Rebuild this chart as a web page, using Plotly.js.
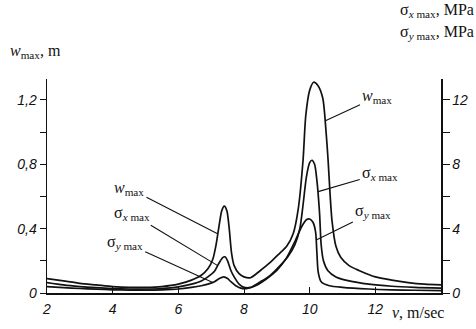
<!DOCTYPE html>
<html>
<head>
<meta charset="utf-8">
<script src="https://cdn.plot.ly/plotly-3.0.1.min.js"></script>
<style>html,body{margin:0;padding:0;background:#fff;}#chart{width:476px;height:329px;}</style>
</head>
<body>
<div id="chart"></div>
<script>
// speed v, m/sec and deflection w_max, m
const xW = [2, 2.5, 3, 3.5, 4, 4.5, 5, 5.5, 6, 6.4, 6.7, 6.9, 7.05, 7.15, 7.25, 7.32, 7.4, 7.48, 7.55, 7.62, 7.7, 7.85, 8.0, 8.2, 8.5, 8.8, 9.1, 9.3, 9.5, 9.65, 9.8, 9.88, 10.0, 10.12, 10.25, 10.4, 10.5, 10.56, 10.62, 10.68, 10.8, 10.95, 11.2, 11.5, 12, 12.5, 13, 13.5, 14];
const wMax = [0.09, 0.075, 0.06, 0.05, 0.04, 0.035, 0.035, 0.04, 0.055, 0.08, 0.11, 0.15, 0.21, 0.30, 0.43, 0.51, 0.54, 0.51, 0.40, 0.25, 0.17, 0.12, 0.10, 0.095, 0.14, 0.19, 0.25, 0.29, 0.37, 0.52, 0.83, 1.10, 1.26, 1.31, 1.29, 1.21, 1.00, 0.83, 0.62, 0.45, 0.29, 0.22, 0.17, 0.14, 0.10, 0.08, 0.065, 0.055, 0.05];

// stress sigma_x max, MPa
const xSx = [2, 2.5, 3, 3.5, 4, 4.5, 5, 5.5, 6, 6.4, 6.7, 6.9, 7.1, 7.25, 7.35, 7.42, 7.5, 7.6, 7.7, 7.85, 8.0, 8.2, 8.5, 8.8, 9.1, 9.35, 9.55, 9.7, 9.8, 9.9, 10.0, 10.07, 10.15, 10.22, 10.3, 10.35, 10.42, 10.55, 10.8, 11.2, 11.8, 12.5, 13.2, 14];
const sigmaX = [0.65, 0.5, 0.4, 0.33, 0.28, 0.25, 0.25, 0.28, 0.38, 0.55, 0.75, 1.0, 1.35, 1.9, 2.2, 2.25, 2.0, 1.4, 1.0, 0.55, 0.35, 0.35, 0.7, 1.1, 1.7, 2.3, 3.0, 4.0, 5.5, 7.2, 8.1, 8.25, 8.0, 7.0, 5.0, 3.0, 2.0, 1.4, 1.0, 0.75, 0.55, 0.42, 0.35, 0.3];

// stress sigma_y max, MPa
const xSy = [2, 2.5, 3, 3.5, 4, 4.5, 5, 5.5, 6, 6.4, 6.7, 6.9, 7.1, 7.25, 7.38, 7.5, 7.6, 7.75, 7.9, 8.1, 8.4, 8.7, 9.0, 9.3, 9.55, 9.75, 9.9, 10.0, 10.1, 10.18, 10.22, 10.26, 10.35, 10.6, 11, 11.8, 12.5, 13.2, 14];
const sigmaY = [0.4, 0.33, 0.28, 0.24, 0.2, 0.18, 0.18, 0.2, 0.25, 0.35, 0.45, 0.55, 0.7, 0.9, 1.0, 0.9, 0.7, 0.45, 0.3, 0.28, 0.5, 0.9, 1.4, 2.2, 3.2, 4.1, 4.55, 4.6, 4.4, 3.8, 2.5, 1.3, 0.7, 0.45, 0.35, 0.25, 0.2, 0.17, 0.15];

// tick labels
const xTicks = [2, 4, 6, 8, 10, 12];
const xTickText = ['2', '4', '6', '8', '10', '12'];
const yTicks = [0, 0.4, 0.8, 1.2];
const yTickText = ['0', '0,4', '0,8', '1,2'];
const y2Ticks = [0, 4, 8, 12];
const y2TickText = ['0', '4', '8', '12'];

const ink = '#111';
const lineStyle = {color: ink, width: 1.7, shape: 'spline', smoothing: 0.7};

const traces = [
  {x: xW, y: wMax, type: 'scatter', mode: 'lines', line: lineStyle, yaxis: 'y', hoverinfo: 'skip'},
  {x: xSx, y: sigmaX, type: 'scatter', mode: 'lines', line: lineStyle, yaxis: 'y2', hoverinfo: 'skip'},
  {x: xSy, y: sigmaY, type: 'scatter', mode: 'lines', line: lineStyle, yaxis: 'y2', hoverinfo: 'skip'}
];

const tickFont = {family: 'Liberation Sans', size: 14, color: ink, style: 'italic'};
const labFont = {family: 'Liberation Serif', size: 16, color: ink};

function lead(text, x, y, yref, ax, ay) {
  return {text: text, x: x, y: y, xref: 'x', yref: yref, ax: ax, ay: ay,
    showarrow: true, arrowhead: 0, arrowwidth: 1.1, arrowcolor: ink, font: labFont, standoff: 0, startstandoff: 1};
}

const layout = {
  width: 476, height: 329,
  margin: {l: 47, r: 35, t: 79, b: 36},
  paper_bgcolor: '#fff', plot_bgcolor: '#fff',
  showlegend: false,
  xaxis: {range: [2, 14], tickvals: xTicks, ticktext: xTickText, ticks: 'inside', ticklen: 6,
    tickcolor: ink, showline: true, linecolor: ink, linewidth: 1.5, showgrid: false, zeroline: false,
    tickfont: tickFont, ticklabelstandoff: 3},
  yaxis: {range: [0, 1.33], tickvals: yTicks, ticktext: yTickText, ticks: 'outside', ticklen: 6,
    tickcolor: ink, showline: true, linecolor: ink, linewidth: 1.5, showgrid: false, zeroline: false,
    tickfont: tickFont, minor: {tickvals: [0.2, 0.6, 1.0], ticks: 'outside', ticklen: 6, tickcolor: ink}},
  yaxis2: {range: [0, 13.3], overlaying: 'y', side: 'right', tickvals: y2Ticks, ticktext: y2TickText,
    ticks: 'outside', ticklen: 7, tickcolor: ink, showline: true, linecolor: ink, linewidth: 1.5,
    showgrid: false, zeroline: false, tickfont: tickFont,
    minor: {tickvals: [2, 6, 10], ticks: 'outside', ticklen: 7, tickcolor: ink}},
  annotations: [
    {text: '<i>w</i><sub>max</sub>, m', xref: 'paper', yref: 'paper', x: -0.1, y: 1.13, xanchor: 'left', yanchor: 'middle', showarrow: false, font: labFont},
    {text: 'σ<sub><i>x</i> max</sub>, MPa', xref: 'paper', yref: 'paper', x: 1.089, y: 1.32, xanchor: 'right', yanchor: 'middle', showarrow: false, font: labFont},
    {text: 'σ<sub><i>y</i> max</sub>, MPa', xref: 'paper', yref: 'paper', x: 1.089, y: 1.215, xanchor: 'right', yanchor: 'middle', showarrow: false, font: labFont},
    {text: '<i>v</i>, m/sec', xref: 'paper', yref: 'paper', x: 0.87, y: -0.09, xanchor: 'left', yanchor: 'middle', showarrow: false, font: labFont},
    lead('<i>w</i><sub>max</sub>', 7.18, 0.37, 'y', -88, -45),
    lead('σ<sub><i>x</i> max</sub>', 7.2, 1.7, 'y2', -86, -52),
    lead('σ<sub><i>y</i> max</sub>', 7.05, 0.65, 'y2', -88, -40),
    lead('<i>w</i><sub>max</sub>', 10.48, 1.07, 'y', 52, -24),
    lead('σ<sub><i>x</i> max</sub>', 10.26, 6.3, 'y2', 62, -18),
    lead('σ<sub><i>y</i> max</sub>', 10.2, 3.3, 'y2', 57, -28)
  ]
};

Plotly.newPlot('chart', traces, layout, {staticPlot: true, displayModeBar: false});
</script>
</body>
</html>
